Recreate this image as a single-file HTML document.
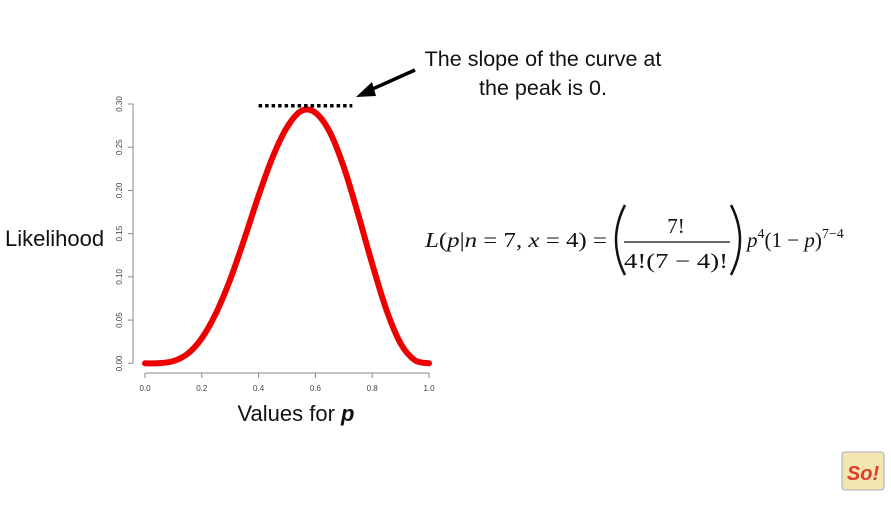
<!DOCTYPE html>
<html><head><meta charset="utf-8"><style>
body{margin:0;background:#fff;width:891px;height:501px;overflow:hidden;font-family:"Liberation Sans",sans-serif}
</style></head><body>
<svg width="891" height="501" viewBox="0 0 891 501">
<g id="axes" font-family="Liberation Sans, sans-serif" fill="#444"></g>
<path id="curve" fill="none" stroke="#ee0000" stroke-width="6" stroke-linejoin="round" stroke-linecap="round"/>
<line id="peakline" stroke="#000" stroke-width="3.5" stroke-dasharray="3.5 3"/>
<line x1="415" y1="70" x2="368" y2="91" stroke="#000" stroke-width="3.5"/>
<polygon points="356,97 372,82 376,96" fill="#000"/>
<text x="543" y="66" font-size="21.5" text-anchor="middle" fill="#111">The slope of the curve at</text>
<text x="543" y="95" font-size="21.5" text-anchor="middle" fill="#111">the peak is 0.</text>
<text x="5" y="246" font-size="22" fill="#111">Likelihood</text>
<text x="296" y="421" font-size="22" text-anchor="middle" fill="#111">Values for <tspan font-weight="bold" font-style="italic">p</tspan></text>
<g font-family="Liberation Serif, serif" font-size="21" fill="#111">
<text x="425" y="247" textLength="182" lengthAdjust="spacingAndGlyphs"><tspan font-style="italic">L</tspan>(<tspan font-style="italic">p</tspan>|<tspan font-style="italic">n</tspan> = 7, <tspan font-style="italic">x</tspan> = 4) =</text>
<path d="M625,205 Q607,240 625,275" fill="none" stroke="#111" stroke-width="2.5"/>
<text x="676" y="233" text-anchor="middle">7!</text>
<line x1="624" y1="242" x2="730" y2="242" stroke="#111" stroke-width="1.2"/>
<text x="676" y="268" text-anchor="middle" textLength="104" lengthAdjust="spacingAndGlyphs">4!(7 − 4)!</text>
<path d="M731,205 Q749,240 731,275" fill="none" stroke="#111" stroke-width="2.5"/>
<text x="747" y="247"><tspan font-style="italic">p</tspan><tspan font-size="14" dy="-9">4</tspan><tspan dy="9">(1 − </tspan><tspan font-style="italic">p</tspan>)<tspan font-size="14" dy="-9">7−4</tspan></text>
</g>
<g>
<rect x="842" y="452" width="42" height="38" fill="#f3e6b0" stroke="#aab" rx="3"/>
<text x="863" y="480" font-size="20" font-weight="bold" font-style="italic" text-anchor="middle" fill="#e23b2a">So!</text>
</g>
</svg>
<script>
const pValues=[0,0.05,0.1,0.15,0.2,0.25,0.3,0.35,0.4,0.45,0.5,0.55,0.6,0.65,0.7,0.75,0.8,0.85,0.9,0.95,1];
const likelihood=[0,0.0002,0.0026,0.011,0.029,0.058,0.097,0.144,0.194,0.239,0.273,0.292,0.290,0.268,0.227,0.173,0.115,0.062,0.023,0.0036,0];
const xTicks=[0,0.2,0.4,0.6,0.8,1.0];
const xTickLabels=["0.0","0.2","0.4","0.6","0.8","1.0"];
const yTicks=[0,0.05,0.1,0.15,0.2,0.25,0.3];
const yTickLabels=["0.00","0.05","0.10","0.15","0.20","0.25","0.30"];
const peakLine=[0.4,0.73,0.298];
const X=v=>145+v*284, Y=v=>363.3-v*(259.3/0.3);
const NS="http://www.w3.org/2000/svg";
const ax=document.getElementById('axes');
function mk(t,a){const e=document.createElementNS(NS,t);for(const k in a)e.setAttribute(k,a[k]);ax.appendChild(e);return e;}
let l=mk('line',{x1:X(0),x2:X(1),y1:373,y2:373,stroke:'#888','stroke-width':1});


l=mk('line',{x1:133,x2:133,y1:Y(0),y2:Y(0.3),stroke:'#888','stroke-width':1});


xTicks.forEach((v,i)=>{
 mk('line',{x1:X(v),x2:X(v),y1:373,y2:378,stroke:'#888'});
 const t=mk('text',{x:X(v),y:391,'font-size':8,'text-anchor':'middle'});t.textContent=xTickLabels[i];
 
 
});
yTicks.forEach((v,i)=>{
 mk('line',{x1:128,x2:133,y1:Y(v),y2:Y(v),stroke:'#888'});
 const t=mk('text',{x:0,y:0,'font-size':8,'text-anchor':'middle',transform:`translate(122 ${Y(v)}) rotate(-90)`});t.textContent=yTickLabels[i];
 
 
});
const pts=pValues.map((p,i)=>[X(p),Y(likelihood[i])]);
let d=`M${pts[0][0]},${pts[0][1]}`;
for(let i=0;i<pts.length-1;i++){
 const p0=pts[Math.max(0,i-1)],p1=pts[i],p2=pts[i+1],p3=pts[Math.min(pts.length-1,i+2)];
 d+=` C${p1[0]+(p2[0]-p0[0])/6},${p1[1]+(p2[1]-p0[1])/6} ${p2[0]-(p3[0]-p1[0])/6},${p2[1]-(p3[1]-p1[1])/6} ${p2[0]},${p2[1]}`;
}
document.getElementById('curve').setAttribute('d',d);
const pl=document.getElementById('peakline');
pl.setAttribute('x1',X(peakLine[0]));pl.setAttribute('x2',X(peakLine[1]));
pl.setAttribute('y1',Y(peakLine[2]));pl.setAttribute('y2',Y(peakLine[2]));
</script>
</body></html>
